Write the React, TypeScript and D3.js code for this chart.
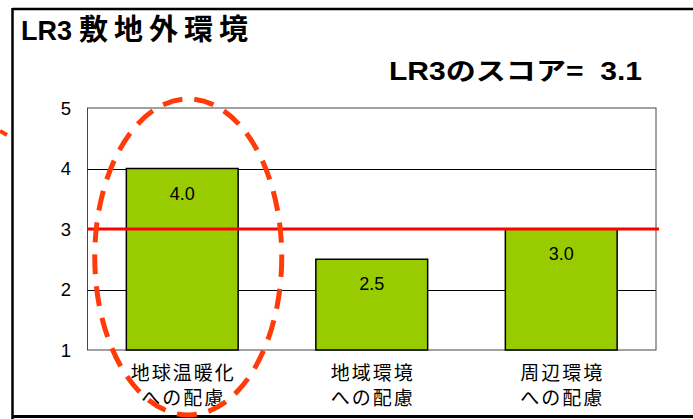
import React from "react";
import * as d3 from "d3";

const categories: string[][] = [
  ["地球温暖化", "への配慮"],
  ["地域環境", "への配慮"],
  ["周辺環境", "への配慮"],
];
const values: number[] = [4.0, 2.5, 3.0];
const yTicks: number[] = [1, 2, 3, 4, 5];
const gridTicks: number[] = [2, 4];
const scoreValue = 3.1;
const referenceLine = 3;
const titleCode = "LR3";
const titleText = "敷地外環境";
const scoreLabel = "LR3のスコア=  ";

const W = 693;
const H = 419;
const plot = { left: 87.5, right: 656, top: 108, bottom: 350 };
const LATIN = '"Liberation Sans", Arial, "Noto Sans CJK JP", sans-serif';

export default function App() {
  const x = d3
    .scaleBand<number>()
    .domain(d3.range(values.length))
    .range([plot.left, plot.right])
    .paddingInner(0.41)
    .paddingOuter(0.205);
  const y = d3.scaleLinear().domain([1, 5]).range([plot.bottom, plot.top]);

  return (
    <svg
      width={W}
      height={H}
      style={{ position: "absolute", left: 0, top: 0, background: "#fff" }}
    >
      <rect x={0} y={0} width={W} height={H} fill="#fff" />
      {/* frame */}
      <line x1={12.5} x2={W} y1={9} y2={9} stroke="#000" strokeWidth={2.5} />
      <line x1={12.5} x2={12.5} y1={8} y2={H} stroke="#000" strokeWidth={2.5} />
      <line x1={12} x2={W} y1={416.5} y2={416.5} stroke="#000" strokeWidth={3} />

      {/* title */}
      <text
        x={21}
        y={40}
        fontFamily={LATIN}
        fontSize={28}
        fontWeight="bold"
        textLength={51}
        lengthAdjust="spacingAndGlyphs"
      >
        {titleCode}
      </text>
      <text
        x={79}
        y={40}
        fontFamily={LATIN}
        fontSize={29}
        fontWeight="bold"
        letterSpacing={6}
      >
        {titleText}
      </text>
      <text
        x={389}
        y={80}
        fontFamily={LATIN}
        fontSize={25}
        fontWeight="bold"
        textLength={253}
        lengthAdjust="spacingAndGlyphs"
        style={{ whiteSpace: "pre" }}
      >
        {scoreLabel + scoreValue.toFixed(1)}
      </text>

      {/* plot area */}
      <rect
        x={plot.left}
        y={plot.top}
        width={plot.right - plot.left}
        height={plot.bottom - plot.top}
        fill="#fff"
        stroke="#444"
        strokeWidth={1}
      />
      {gridTicks.map((t) => (
        <line
          key={t}
          x1={plot.left}
          x2={plot.right}
          y1={Math.round(y(t)) + 0.5}
          y2={Math.round(y(t)) + 0.5}
          stroke="#000"
          strokeWidth={1}
        />
      ))}
      {yTicks.map((t) => (
        <text
          key={t}
          x={71}
          y={y(t)}
          dy="0.36em"
          textAnchor="end"
          fontFamily={LATIN}
          fontSize={18.5}
        >
          {t}
        </text>
      ))}

      {/* bars */}
      {values.map((v, i) => (
        <g key={i}>
          <rect
            x={x(i)!}
            y={y(v)}
            width={x.bandwidth()}
            height={y(1) - y(v)}
            fill="#99cc00"
            stroke="#000"
            strokeWidth={1.5}
          />
          <text
            x={x(i)! + x.bandwidth() / 2}
            y={y(v) + 31}
            textAnchor="middle"
            fontFamily={LATIN}
            fontSize={18}
          >
            {v.toFixed(1)}
          </text>
          {categories[i].map((line, j) => (
            <text
              key={j}
              x={x(i)! + x.bandwidth() / 2 + 1}
              y={380 + j * 25}
              textAnchor="middle"
              fontFamily={LATIN}
              fontSize={19}
              letterSpacing={2}
            >
              {line}
            </text>
          ))}
        </g>
      ))}

      {/* reference line */}
      <line
        x1={plot.left}
        x2={659}
        y1={y(referenceLine)}
        y2={y(referenceLine)}
        stroke="#ff0000"
        strokeWidth={3}
      />

      {/* highlight ellipse */}
      <ellipse
        cx={x(0)! + x.bandwidth() / 2 + 6}
        cy={257}
        rx={93.5}
        ry={158}
        fill="none"
        stroke="#ff3b0a"
        strokeWidth={5}
        strokeDasharray="20 12"
      />
      <line x1={0} y1={131} x2={7} y2={135} stroke="#ff3b0a" strokeWidth={4} />
    </svg>
  );
}
